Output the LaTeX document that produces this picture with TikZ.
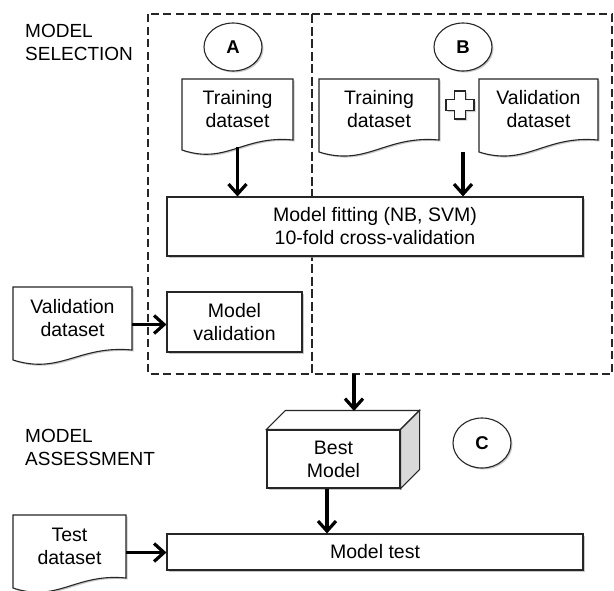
\documentclass[tikz,border=0pt]{standalone}
\usepackage{fontspec}
\setmainfont{Liberation Sans}
\usetikzlibrary{arrows.meta,shadows,shapes.geometric,calc}
\definecolor{ln}{gray}{0.15}
\tikzset{
  shd/.style={drop shadow={shadow xshift=1.5pt,shadow yshift=-1.5pt,fill=black!35,opacity=0.6}},
  docline/.style={draw=ln,line width=1.1pt,fill=white,shd},
  doctext/.style={align=center,inner sep=0pt,font=\fontsize{19.5}{23}\selectfont},
  box/.style={draw=ln,line width=1.1pt,fill=white,shd,align=center,inner sep=0pt,font=\fontsize{19.5}{23}\selectfont},
  tag/.style={ellipse,draw=ln,line width=1.1pt,fill=white,shd,minimum width=58pt,minimum height=48pt,inner sep=0pt,font=\fontsize{18.5}{20}\selectfont\bfseries},
  lbl/.style={align=left,inner sep=0pt,anchor=north west,font=\fontsize{19}{23.5}\selectfont},
  dashbox/.style={draw=ln,line width=1.2pt,dash pattern=on 8pt off 4.5pt},
  arr/.style={draw=black,line width=3.2pt,-{Straight Barb[length=10pt,width=18pt]}},
}
\newcommand{\docnode}[7]{%
  \draw[docline] (#2,#3) -- (#4,#3) -- (#4,#6)
    .. controls ({#2+0.55*(#4-#2)},{#6-5}) and ({#2+0.4*(#4-#2)},{#5+15}) .. (#2,#5) -- cycle;
  \node[doctext] (#1) at ({(#2+#4)/2},{(#3+#6)/2}) {#7};
  \coordinate (#1-b) at ({(#2+#4)/2},{(#5+#6)/2+2});
  \coordinate (#1-r) at (#4,{(#3+#6)/2+6});
}
\begin{document}
\begin{tikzpicture}[x=1pt,y=-1pt]
\useasboundingbox (0,0) rectangle (614,590);
\fill[white] (0,0) rectangle (614,590);
% section labels
\node[lbl] (sel) at (25,24) {MODEL\\SELECTION};
\node[lbl] (ass) at (25,429) {MODEL\\ASSESSMENT};
% dashed regions
\draw[dashbox] (148,14) rectangle (312,374);
\draw[dashbox] (312,14) rectangle (612,374);
\coordinate (selbot) at (354,374);
% tags
\node[tag] (tagA) at (233,47) {A};
\node[tag] (tagB) at (463,47) {B};
\node[tag,minimum height=50pt] (tagC) at (482,443) {C};
% documents
\docnode{trA}{182}{79}{293}{150}{140}{Training\\dataset}
\docnode{trB}{319}{79}{439}{152}{140}{Training\\dataset}
\docnode{vaB}{479}{79}{598}{152}{140}{Validation\\dataset}
\docnode{vaL}{13}{287}{132}{360}{350}{Validation\\dataset}
\docnode{teL}{13}{515}{126}{588}{578}{Test\\dataset}
% plus sign
\draw[docline] (446,99.5) -- (454.5,99.5) -- (454.5,91) -- (465.5,91) -- (465.5,99.5) -- (474,99.5)
  -- (474,110.5) -- (465.5,110.5) -- (465.5,119) -- (454.5,119) -- (454.5,110.5) -- (446,110.5) -- cycle;
\node[inner sep=0pt,minimum size=28pt] (plus) at (460,105) {};
\coordinate (bstart) at (463,152);
% process boxes
\node[box,minimum width=416pt,minimum height=59pt] (fit) at (375,226.5) {Model fitting (NB, SVM)\\10-fold cross-validation};
\node[box,minimum width=135pt,minimum height=60pt] (val) at (234.5,322) {Model\\validation};
\node[box,minimum width=416pt,minimum height=36pt] (test) at (375,552) {Model test};
% best model cube
\node[box,minimum width=133pt,minimum height=58pt] (best) at (333.5,459) {Best\\Model};
\draw[draw=ln,line width=1.1pt,fill=white] (best.north west) -- ++(19,-19) -- ([shift={(19,-19)}]best.north east) -- (best.north east) -- cycle;
\draw[draw=ln,line width=1.1pt,fill=black!15] (best.north east) -- ++(19,-19) -- ([shift={(19,-19)}]best.south east) -- (best.south east) -- cycle;
\coordinate (bestTop) at (354,411);
% arrows
\draw[arr] (trA-b) -- (trA-b |- fit.north);
\draw[arr] (bstart) -- (bstart |- fit.north);
\draw[arr] (vaL-r) -- (vaL-r -| val.west);
\draw[arr] (selbot) -- (bestTop);
\draw[arr] ([xshift=-6.5pt]best.south) -- ([xshift=-6.5pt]best.south |- test.north);
\draw[arr] (teL-r) -- (teL-r -| test.west);
\end{tikzpicture}
\end{document}
